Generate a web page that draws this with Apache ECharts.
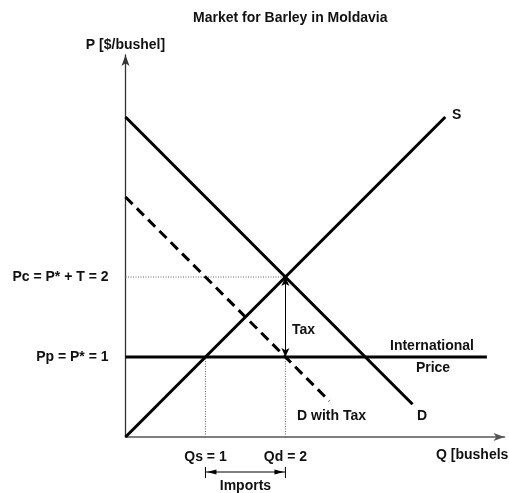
<!DOCTYPE html>
<html><head><meta charset="utf-8">
<script src="https://cdn.jsdelivr.net/npm/echarts@6/dist/echarts.min.js"></script>
<style>html,body{margin:0;padding:0;background:#fff;}#c{width:509px;height:493px;}</style>
</head><body><div id="c"></div>
<script>
// ---- data ----
const supplyQ = [0, 4];
const supplyP = [0, 4];
const demandQ = [0, 3.59];
const demandP = [4, 0.41];
const taxDemandQ = [0, 2.55];
const taxDemandP = [3, 0.45];
const intlQ = [0, 4.52];
const intlP = [1, 1];
const worldPrice = 1;
const consumerPrice = 2;
const qSupplied = 1;
const qDemanded = 2;
const priceTickValues = [1, 2];
const priceTickLabels = ['Pp = P* = 1', 'Pc = P* + T = 2'];
const qtyTickValues = [1, 2];
const qtyTickLabels = ['Qs = 1', 'Qd = 2'];

const FONT = "'Liberation Sans', Arial, Helvetica, sans-serif";
const TXT = '#111';
const FS = 14;

function pairs(xs, ys) { return xs.map((x, i) => [x, ys[i]]); }
function labelFor(vals, labs) {
  return function (v) { const i = vals.findIndex(t => Math.abs(t - v) < 1e-9); return i >= 0 ? labs[i] : ''; };
}

const chart = echarts.init(document.getElementById('c'), null, { renderer: 'canvas' });
const thick = { color: '#000', width: 3 };
const dotted = { color: '#666', width: 1, type: [1, 1.5] };

chart.setOption({
  animation: false,
  backgroundColor: '#fff',
  title: {
    text: 'Market for Barley in Moldavia', left: 188, top: 6,
    textStyle: { fontFamily: FONT, fontSize: FS, fontWeight: 'bold', color: TXT }
  },
  grid: { left: 125.5, top: 55, width: 379, height: 382, containLabel: false },
  xAxis: {
    type: 'value', min: 0, max: 4.74, interval: 1,
    axisLine: { show: true, onZero: false, symbol: ['none', 'arrow'], symbolSize: [6, 11], lineStyle: { color: '#555', width: 1.5 } },
    axisTick: { show: false }, splitLine: { show: false },
    axisLabel: { show: true, margin: 13, formatter: labelFor(qtyTickValues, qtyTickLabels), fontFamily: FONT, fontSize: FS, fontWeight: 'bold', color: TXT, showMinLabel: true, showMaxLabel: false }
  },
  yAxis: {
    type: 'value', min: 0, max: 4.775, interval: 1,
    name: 'P [$/bushel]', nameLocation: 'end', nameGap: 3,
    nameTextStyle: { fontFamily: FONT, fontSize: FS, fontWeight: 'bold', color: TXT },
    axisLine: { show: true, onZero: false, symbol: ['none', 'arrow'], symbolSize: [6, 11], lineStyle: { color: '#333', width: 1.3 } },
    axisTick: { show: false }, splitLine: { show: false },
    axisLabel: { show: true, margin: 17, formatter: labelFor(priceTickValues, priceTickLabels), fontFamily: FONT, fontSize: FS, fontWeight: 'bold', color: TXT, showMaxLabel: false }
  },
  series: [
    { type: 'line', name: 'guide Pc', data: [[0, consumerPrice], [qDemanded, consumerPrice]], showSymbol: false, symbol: 'none', lineStyle: dotted, silent: true },
    { type: 'line', name: 'guide Qd', data: [[qDemanded, 0], [qDemanded, worldPrice]], showSymbol: false, symbol: 'none', lineStyle: dotted, silent: true },
    { type: 'line', name: 'guide Qs', data: [[qSupplied, 0], [qSupplied, worldPrice]], showSymbol: false, symbol: 'none', lineStyle: dotted, silent: true },
    {
      type: 'line', name: 'Tax arrow', data: [], symbol: 'none',
      markLine: {
        silent: true, symbol: ['arrow', 'arrow'], symbolSize: [6, 9], label: { show: false },
        lineStyle: { color: '#000', width: 1, type: 'solid' },
        data: [[{ coord: [qDemanded, consumerPrice] }, { coord: [qDemanded, worldPrice] }]]
      }
    },
    { type: 'line', name: 'International Price', data: pairs(intlQ, intlP), symbol: 'none', lineStyle: thick },
    { type: 'line', name: 'D with Tax', data: pairs(taxDemandQ, taxDemandP), symbol: 'none', lineStyle: { color: '#000', width: 3, type: [10, 6] } },
    { type: 'line', name: 'D', data: pairs(demandQ, demandP), symbol: 'none', lineStyle: thick },
    { type: 'line', name: 'S', data: pairs(supplyQ, supplyP), symbol: 'none', lineStyle: thick }
  ]
});

// annotations
const a = chart.convertToPixel({ gridIndex: 0 }, [qSupplied, 0]);
const b = chart.convertToPixel({ gridIndex: 0 }, [qDemanded, 0]);
const ay = 472;
function txt(x, y, s, align) {
  return { type: 'text', x: x, y: y, style: { text: s, fontFamily: FONT, fontSize: FS, fontWeight: 'bold', fill: TXT, align: align || 'left', verticalAlign: 'middle' }, silent: true };
}
chart.setOption({
  graphic: [
    txt(292, 330, 'Tax'),
    txt(432, 346, 'International', 'center'),
    txt(433, 368, 'Price', 'center'),
    txt(297, 416, 'D with Tax'),
    txt(417, 416, 'D'),
    txt(452, 115, 'S'),
    txt(436, 455, 'Q [bushels'),
    txt((a[0] + b[0]) / 2, 486, 'Imports', 'center'),
    { type: 'line', shape: { x1: a[0], y1: ay, x2: b[0], y2: ay }, style: { stroke: '#000', lineWidth: 1 }, silent: true },
    { type: 'line', shape: { x1: a[0], y1: ay - 5, x2: a[0], y2: ay + 6 }, style: { stroke: '#000', lineWidth: 1 }, silent: true },
    { type: 'line', shape: { x1: b[0], y1: ay - 5, x2: b[0], y2: ay + 6 }, style: { stroke: '#000', lineWidth: 1 }, silent: true },
    { type: 'polygon', shape: { points: [[a[0] + 1.5, ay], [a[0] + 11, ay - 2.5], [a[0] + 11, ay + 2.5]] }, style: { fill: '#000' }, silent: true },
    { type: 'polygon', shape: { points: [[b[0] - 1.5, ay], [b[0] - 11, ay - 2.5], [b[0] - 11, ay + 2.5]] }, style: { fill: '#000' }, silent: true }
  ]
});
</script>
</body></html>
